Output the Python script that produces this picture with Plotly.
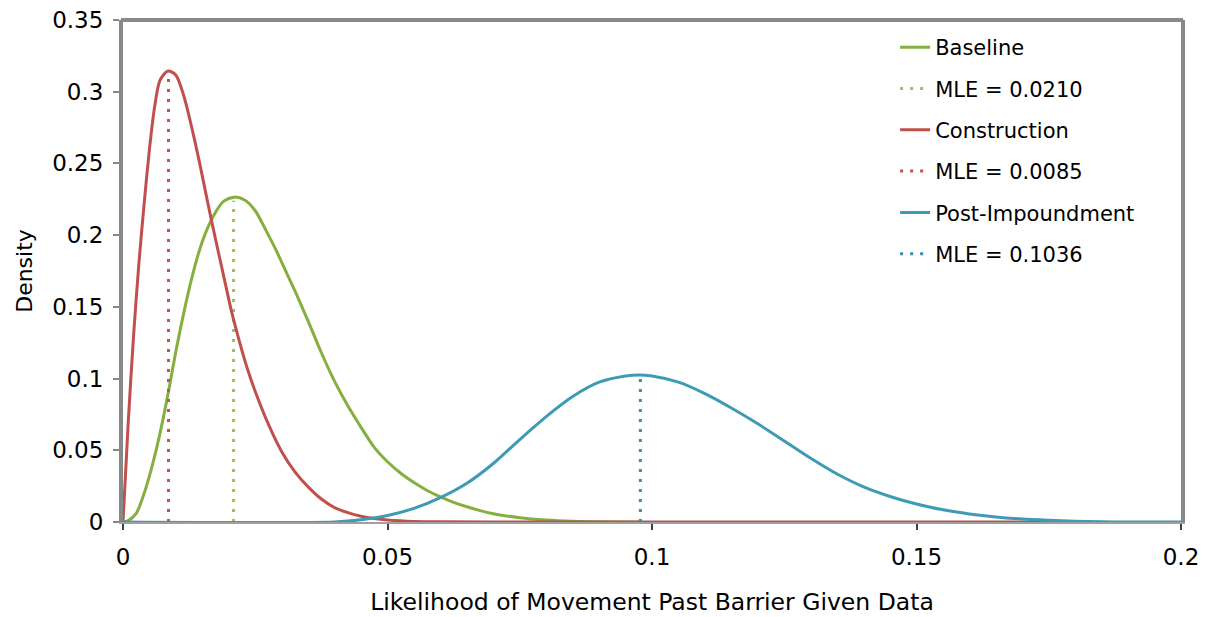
import plotly.graph_objects as go

# ---- data ----
baseline_x = [0, 0.0010, 0.0025, 0.0040, 0.0055, 0.0070, 0.0085, 0.0100, 0.0115, 0.0130,
              0.0145, 0.0160, 0.0175, 0.0190, 0.0210, 0.0230, 0.0250, 0.0270, 0.0290,
              0.0310, 0.0330, 0.0350, 0.0375, 0.0400, 0.0425, 0.0450, 0.0475, 0.0500,
              0.0525, 0.0550, 0.0575, 0.0600, 0.0625, 0.0650, 0.0675, 0.0700, 0.0750,
              0.0800, 0.0850, 0.0900, 0.0980]
baseline_y = [0, 0.001, 0.006, 0.020, 0.039, 0.062, 0.089, 0.119, 0.146, 0.170,
              0.190, 0.205, 0.216, 0.2235, 0.2265, 0.2245, 0.217, 0.2035, 0.189,
              0.173, 0.157, 0.140, 0.118, 0.098, 0.081, 0.066, 0.052, 0.042,
              0.034, 0.0275, 0.022, 0.0175, 0.0137, 0.0106, 0.0079, 0.0058, 0.003,
              0.0014, 0.0005, 0.0001, 0]

construction_x = [0, 0.0010, 0.0020, 0.0030, 0.0040, 0.0050, 0.0060, 0.0070, 0.0085, 0.0100,
                  0.0115, 0.0130, 0.0145, 0.0160, 0.0175, 0.0190, 0.0205, 0.0220, 0.0235,
                  0.0250, 0.0275, 0.0300, 0.0325, 0.0350, 0.0375, 0.0400, 0.0425, 0.0450,
                  0.0475, 0.0500, 0.0550, 0.0600, 0.0700, 0.1790]
construction_y = [0, 0.070, 0.130, 0.180, 0.222, 0.260, 0.290, 0.308, 0.3145, 0.3115,
                  0.297, 0.275, 0.250, 0.223, 0.197, 0.172, 0.147, 0.126, 0.107,
                  0.091, 0.068, 0.049, 0.035, 0.0245, 0.016, 0.010, 0.0065, 0.004,
                  0.0024, 0.0014, 0.0004, 0.0001, 0, 0]

post_x = [0, 0.040, 0.045, 0.050, 0.055, 0.060, 0.065, 0.070, 0.075, 0.080,
          0.085, 0.090, 0.095, 0.0975, 0.100, 0.105, 0.110, 0.115, 0.120,
          0.125, 0.130, 0.135, 0.140, 0.145, 0.150, 0.155, 0.160, 0.165,
          0.170, 0.175, 0.180, 0.185, 0.190, 0.200]
post_y = [0, 0, 0.0015, 0.0045, 0.0095, 0.017, 0.027, 0.0408, 0.0575, 0.0735,
          0.0875, 0.0975, 0.1018, 0.1025, 0.1018, 0.0975, 0.0895, 0.0795, 0.0685,
          0.0565, 0.0445, 0.0335, 0.0245, 0.0178, 0.0125, 0.0085, 0.0056, 0.0035,
          0.0021, 0.0012, 0.0005, 0.0001, 0, 0]

series_names = ["Baseline", "Construction", "Post-Impoundment"]
mle_labels = ["MLE = 0.0210", "MLE = 0.0085", "MLE = 0.1036"]
mle_x = [0.0209, 0.0086, 0.0978]
mle_top = [0.2240, 0.3110, 0.1010]

line_colors = ["#85AF3F", "#C0504D", "#3E9BB5"]
dot_colors = ["#9BC25A", "#C9504F", "#3A8DAA"]

curves = [(baseline_x, baseline_y), (construction_x, construction_y), (post_x, post_y)]

FONT = "'DejaVu Sans', Verdana, sans-serif"

fig = go.Figure()
for i, (xs, ys) in enumerate(curves):
    fig.add_trace(go.Scatter(
        x=xs, y=ys, mode="lines", name=series_names[i],
        line=dict(color=line_colors[i], width=3, shape="spline", smoothing=0.8),
        legendgroup=f"g{2*i}", hoverinfo="skip"))
    fig.add_trace(go.Scatter(
        x=[mle_x[i], mle_x[i]], y=[0, mle_top[i]], mode="lines", name=mle_labels[i],
        line=dict(color=dot_colors[i], width=3, dash="3px,7px"),
        legendgroup=f"g{2*i+1}", hoverinfo="skip"))

fig.update_layout(
    width=1208, height=617,
    margin=dict(l=123, r=27, t=20, b=95, autoexpand=False),
    paper_bgcolor="white", plot_bgcolor="white",
    font=dict(family=FONT, size=23, color="#000000"),
    showlegend=True,
    legend=dict(x=0.7298, y=0.986, xanchor="left", yanchor="top",
                bgcolor="rgba(0,0,0,0)", borderwidth=0,
                font=dict(family=FONT, size=21, color="#000000"),
                traceorder="grouped", tracegroupgap=11),
    xaxis=dict(range=[0, 0.2], dtick=0.05, tick0=0, showgrid=False, zeroline=False,
               showline=True, linecolor="#A0A0A0", linewidth=1.5, automargin=False,
               ticks="outside", ticklen=6, tickcolor="#404040", tickwidth=1.5,
               tickfont=dict(size=23), ticklabelstandoff=8,
               title=dict(text="Likelihood of Movement Past Barrier Given Data",
                          font=dict(size=23.5), standoff=24)),
    yaxis=dict(range=[0, 0.35], dtick=0.05, tick0=0, showgrid=False, zeroline=False,
               showline=True, linecolor="#888888", linewidth=4, mirror=True, automargin=False,
               ticks="outside", ticklen=6, tickcolor="#888888", tickwidth=1.5,
               tickfont=dict(size=23), ticklabelstandoff=5,
               title=dict(text="Density", font=dict(size=22), standoff=14)),
    shapes=[dict(type="line", xref="paper", yref="paper", x0=-0.002, x1=1.002, y0=1, y1=1,
                 line=dict(color="#888888", width=4))],
)

fig.write_html("out.html", config={"displayModeBar": False},
               post_script="document.body.style.margin='0';")
